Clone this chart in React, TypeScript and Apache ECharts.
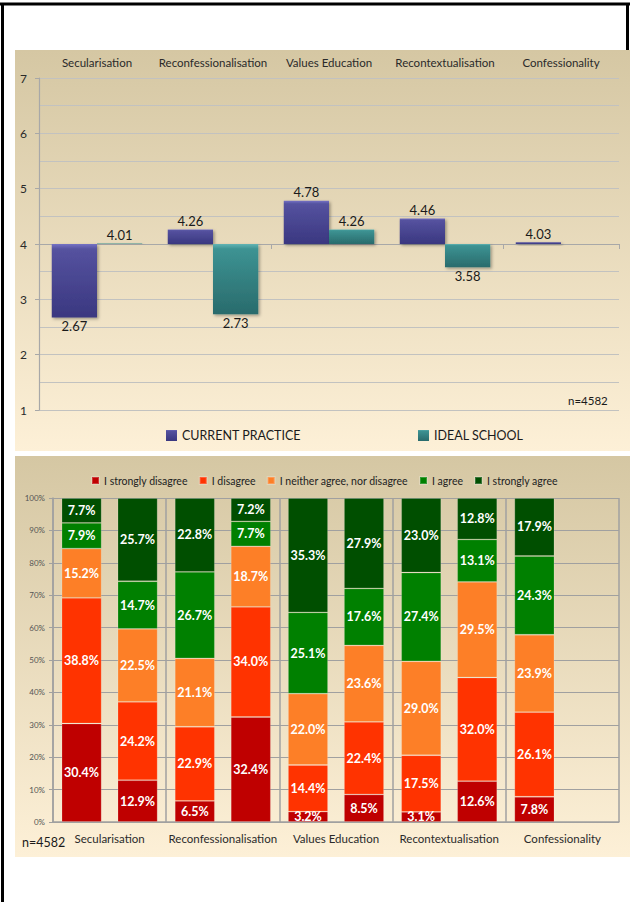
import React, { useEffect, useRef } from 'react';
import * as echarts from 'echarts';

// ---------- data ----------
const categories = ['Secularisation', 'Reconfessionalisation', 'Values Education', 'Recontextualisation', 'Confessionality'];

// top chart: mean scores (scale 1-7, neutral point 4)
const currentPracticeMeans = [2.67, 4.26, 4.78, 4.46, 4.03];
const idealSchoolMeans: (number | null)[] = [4.01, 2.73, 4.26, 3.58, null];
const neutralPoint = 4;
const meanSeriesNames = ['CURRENT PRACTICE', 'IDEAL SCHOOL'];
const sampleLabel = 'n=4582';

// bottom chart: response distributions (%)
const responseLevels = ['I strongly disagree', 'I disagree', 'I neither agree, nor disagree', 'I agree', 'I strongly agree'];

const cpStronglyDisagree = [30.4, 6.5, 3.2, 3.1, 7.8];
const cpDisagree = [38.8, 22.9, 14.4, 17.5, 26.1];
const cpNeither = [15.2, 21.1, 22.0, 29.0, 23.9];
const cpAgree = [7.9, 26.7, 25.1, 27.4, 24.3];
const cpStronglyAgree = [7.7, 22.8, 35.3, 23.0, 17.9];

const isStronglyDisagree: (number | null)[] = [12.9, 32.4, 8.5, 12.6, null];
const isDisagree: (number | null)[] = [24.2, 34.0, 22.4, 32.0, null];
const isNeither: (number | null)[] = [22.5, 18.7, 23.6, 29.5, null];
const isAgree: (number | null)[] = [14.7, 7.7, 17.6, 13.1, null];
const isStronglyAgree: (number | null)[] = [25.7, 7.2, 27.9, 12.8, null];

const percentTicks = [0, 10, 20, 30, 40, 50, 60, 70, 80, 90, 100];

// ---------- styles ----------
const FONT = 'Lato, "Open Sans", "Noto Sans", sans-serif';
const levelColors = ['#bf0000', '#ff3300', '#fd7f27', '#008000', '#004f00'];

function grad(c0: string, c1: string, c2: string) {
  return new echarts.graphic.LinearGradient(0, 0, 0, 1, [
    { offset: 0, color: c0 },
    { offset: 0.07, color: c1 },
    { offset: 1, color: c2 },
  ]);
}

function panelFill() {
  return new echarts.graphic.LinearGradient(0, 0, 0, 1, [
    { offset: 0, color: '#d5c7a3' },
    { offset: 1, color: '#fdf0d7' },
  ]);
}

export default function App() {
  const ref = useRef<HTMLDivElement>(null);

  useEffect(() => {
    if (!ref.current) return;
    const chart = echarts.init(ref.current, undefined, { renderer: 'svg' });

    const meanData = (arr: (number | null)[]) =>
      arr.map((v) =>
        v == null
          ? '-'
          : { value: +(v - neutralPoint).toFixed(2), label: { position: v >= neutralPoint ? 'top' : 'bottom' } }
      );

    const meanLabel = (arr: (number | null)[]) => ({
      show: true,
      distance: 2,
      color: '#1a1a1a',
      fontSize: 13,
      fontFamily: FONT,
      formatter: (p: any) => {
        const v = arr[p.dataIndex];
        return v == null ? '' : v.toFixed(2);
      },
    });

    const barShadow = {
      shadowBlur: 3,
      shadowColor: 'rgba(0,0,0,0.35)',
      shadowOffsetX: 1.5,
      shadowOffsetY: 1.5,
    };

    const cpLevels = [cpStronglyDisagree, cpDisagree, cpNeither, cpAgree, cpStronglyAgree];
    const isLevels = [isStronglyDisagree, isDisagree, isNeither, isAgree, isStronglyAgree];

    const stackSeries = (levels: (number | null)[][], stack: string) =>
      levels.map((arr, i) => ({
        name: responseLevels[i],
        type: 'bar',
        stack,
        xAxisIndex: 2,
        yAxisIndex: 1,
        barWidth: 40,
        barGap: '40%',
        data: arr.map((v) => (v == null ? '-' : v)),
        itemStyle: { color: levelColors[i], borderColor: 'rgba(255,255,255,0.22)', borderWidth: 0.8 },
        label: {
          show: true,
          position: 'inside',
          color: '#ffffff',
          fontSize: 12.5,
          fontWeight: 'bold',
          fontFamily: FONT,
          formatter: (p: any) => (typeof p.value === 'number' ? p.value.toFixed(1) + '%' : ''),
        },
      }));

    const option: any = {
      animation: false,
      textStyle: { fontFamily: FONT },
      graphic: [
        { type: 'line', z: -100, shape: { x1: 0, y1: 4, x2: 630, y2: 4 }, style: { stroke: '#000', lineWidth: 3 } },
        { type: 'line', z: -100, shape: { x1: 2.5, y1: 3, x2: 2.5, y2: 902 }, style: { stroke: '#000', lineWidth: 3 } },
        { type: 'line', z: -100, shape: { x1: 627.5, y1: 3, x2: 627.5, y2: 60 }, style: { stroke: '#000', lineWidth: 3 } },
        { type: 'rect', z: -90, shape: { x: 15, y: 50, width: 615, height: 401 }, style: { fill: panelFill() } },
        { type: 'rect', z: -90, shape: { x: 15, y: 456, width: 615, height: 401 }, style: { fill: panelFill() } },
        {
          type: 'text',
          z: 10,
          x: 568,
          y: 400,
          style: { text: sampleLabel, fill: '#1a1a1a', fontSize: 11.5, fontFamily: FONT, verticalAlign: 'middle' },
        },
        {
          type: 'text',
          z: 10,
          x: 22,
          y: 842,
          style: { text: sampleLabel, fill: '#1a1a1a', fontSize: 12.5, fontFamily: FONT, verticalAlign: 'middle' },
        },
      ],
      legend: [
        {
          data: [meanSeriesNames[0]],
          left: 161,
          top: 424,
          itemWidth: 11,
          itemHeight: 11,
          icon: 'rect',
          textStyle: { fontSize: 12.5, color: '#1a1a1a', fontFamily: FONT },
        },
        {
          data: [meanSeriesNames[1]],
          left: 413,
          top: 424,
          itemWidth: 11,
          itemHeight: 11,
          icon: 'rect',
          textStyle: { fontSize: 12.5, color: '#1a1a1a', fontFamily: FONT },
        },
        {
          data: responseLevels,
          left: 86,
          top: 470,
          itemWidth: 7,
          itemHeight: 7,
          itemGap: 11,
          icon: 'rect',
          textStyle: { fontSize: 10.5, color: '#222', fontFamily: FONT },
        },
      ],
      grid: [
        { left: 39, right: 11, top: 78, bottom: 492, containLabel: false },
        { left: 53, right: 11, top: 498, bottom: 80, containLabel: false },
      ],
      xAxis: [
        {
          type: 'category',
          gridIndex: 0,
          data: categories,
          position: 'bottom',
          axisLine: { show: true, onZero: true, lineStyle: { color: '#a8a8a8', width: 1.2 } },
          axisTick: { show: true, length: 5, lineStyle: { color: '#a8a8a8' } },
          axisLabel: { show: false },
          splitLine: { show: false },
        },
        {
          type: 'category',
          gridIndex: 0,
          data: categories,
          position: 'top',
          axisLine: { show: false, onZero: false },
          axisTick: { show: false },
          axisLabel: { show: true, interval: 0, fontSize: 11.5, color: '#2a2a2a', margin: 10, fontFamily: FONT },
          splitLine: { show: false },
        },
        {
          type: 'category',
          gridIndex: 1,
          data: categories,
          axisLine: { show: true, lineStyle: { color: '#a0a0a0', width: 1.5 } },
          axisTick: { show: false },
          axisLabel: { show: true, interval: 0, fontSize: 11.5, color: '#2a2a2a', margin: 10, fontFamily: FONT },
          splitLine: { show: true, interval: 0, lineStyle: { color: '#a0a0a0', width: 1.5 } },
        },
      ],
      yAxis: [
        {
          type: 'value',
          gridIndex: 0,
          min: -3,
          max: 3,
          interval: 1,
          axisLine: { show: true, lineStyle: { color: '#a8a8a8', width: 1.2 } },
          axisTick: { show: true, length: 4, lineStyle: { color: '#a8a8a8' } },
          axisLabel: {
            fontSize: 12,
            color: '#2a2a2a',
            margin: 12,
            fontFamily: FONT,
            formatter: (v: number) => String(v + neutralPoint),
          },
          splitLine: { show: true, lineStyle: { color: '#c2c2c0', width: 1.2 } },
          minorTick: { show: false, splitNumber: 2 },
          minorSplitLine: { show: true, lineStyle: { color: '#c2c2c0', width: 1.2 } },
        },
        {
          type: 'value',
          gridIndex: 1,
          min: percentTicks[0],
          max: percentTicks[percentTicks.length - 1],
          interval: percentTicks[1] - percentTicks[0],
          axisLine: { show: true, lineStyle: { color: '#a0a0a0', width: 1.5 } },
          axisTick: { show: true, length: 4, lineStyle: { color: '#a0a0a0' } },
          axisLabel: { fontSize: 8, color: '#555', margin: 8, fontFamily: FONT, formatter: '{value}%' },
          splitLine: { show: true, lineStyle: { color: '#a0a0a0', width: 1.2 } },
        },
      ],
      series: [
        {
          name: meanSeriesNames[0],
          type: 'bar',
          xAxisIndex: 0,
          yAxisIndex: 0,
          barGap: '0%',
          barCategoryGap: '22%',
          data: meanData(currentPracticeMeans),
          itemStyle: { color: grad('#7572c4', '#55529f', '#3a3780'), ...barShadow },
          label: meanLabel(currentPracticeMeans),
        },
        {
          name: meanSeriesNames[1],
          type: 'bar',
          xAxisIndex: 0,
          yAxisIndex: 0,
          barGap: '0%',
          barCategoryGap: '22%',
          data: meanData(idealSchoolMeans),
          itemStyle: { color: grad('#62b4b4', '#3d9393', '#296b6c'), ...barShadow },
          label: meanLabel(idealSchoolMeans),
        },
        ...stackSeries(cpLevels, 'cp'),
        ...stackSeries(isLevels, 'is'),
      ],
    };

    chart.setOption(option);
    return () => chart.dispose();
  }, []);

  return (
    <div
      ref={ref}
      style={{ position: 'absolute', left: 0, top: 0, width: 630, height: 902, background: '#ffffff' }}
    />
  );
}
